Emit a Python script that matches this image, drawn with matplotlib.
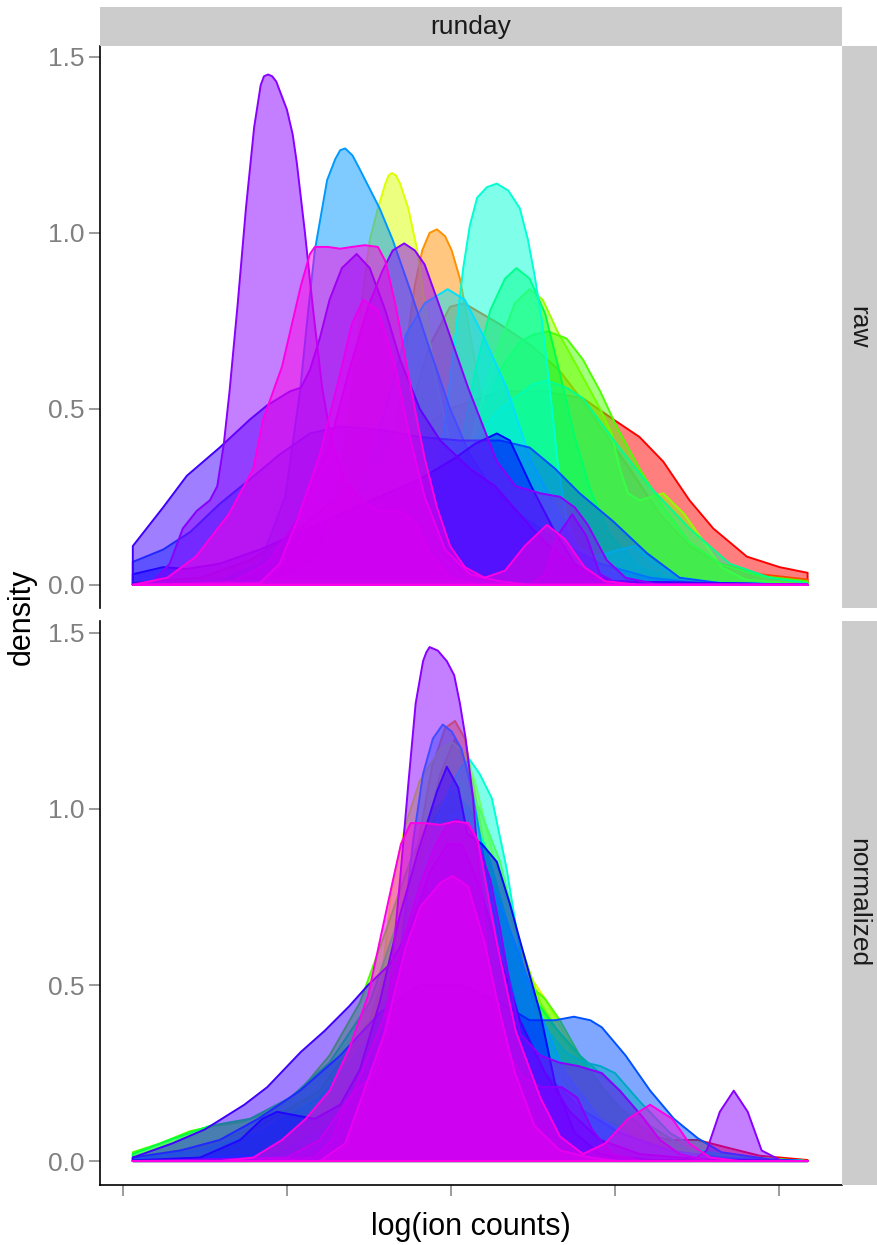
import matplotlib
matplotlib.use("Agg")
import matplotlib.pyplot as plt
from matplotlib.colors import to_rgba
from matplotlib.patches import Rectangle

plt.rcParams['font.family'] = ['Liberation Sans', 'DejaVu Sans']

# ---------------- data ----------------
# one rainbow colour per sample, drawn in this order
sample_colors = ["#FF0000", "#FF4800", "#FF9100", "#FFD900", "#DDFF00",
                 "#95FF00", "#4DFF00", "#04FF00", "#00FF44", "#00FF8C",
                 "#00FFD4", "#00E1FF", "#0099FF", "#0051FF", "#0009FF",
                 "#4000FF", "#8800FF", "#D000FF", "#FF00E6"]

facet_rows = ["raw", "normalized"]
facet_col = "runday"
x_ticks = [10, 12, 14, 16, 18]
y_ticks = [0.0, 0.5, 1.0, 1.5]
y_tick_labels = ["0.0", "0.5", "1.0", "1.5"]

# ---- raw panel densities ----
raw_red1_x = [10.12, 10.94, 11.55, 12.16, 12.77, 13.38, 13.99, 14.60, 15.12, 15.61, 15.98, 16.30, 16.59, 16.91, 17.20, 17.61, 18.01, 18.35]
raw_red1_y = [0.005, 0.02, 0.07, 0.16, 0.28, 0.40, 0.50, 0.55, 0.55, 0.53, 0.47, 0.42, 0.35, 0.24, 0.16, 0.08, 0.05, 0.034]
raw_red2_x = [10.12, 12.16, 12.77, 13.38, 13.74, 13.99, 14.16, 14.60, 14.98, 15.32, 15.55, 15.82, 16.18, 16.55, 16.91, 17.28, 17.77, 18.35]
raw_red2_y = [0.0, 0.02, 0.10, 0.40, 0.68, 0.79, 0.80, 0.74, 0.68, 0.61, 0.54, 0.45, 0.33, 0.20, 0.11, 0.06, 0.03, 0.015]
raw_orange1_x = [10.12, 12.16, 12.77, 13.13, 13.32, 13.44, 13.56, 13.65, 13.74, 13.83, 13.93, 14.01, 14.11, 14.23, 14.35, 14.54, 14.78, 15.09, 15.45, 15.94, 16.55, 17.28, 18.35]
raw_orange1_y = [0.0, 0.01, 0.06, 0.20, 0.42, 0.65, 0.85, 0.95, 1.00, 1.01, 0.99, 0.95, 0.87, 0.72, 0.56, 0.40, 0.28, 0.19, 0.12, 0.06, 0.02, 0.005, 0.0]
raw_yellow1_x = [10.12, 11.91, 12.40, 12.65, 12.79, 12.91, 13.01, 13.11, 13.20, 13.24, 13.28, 13.33, 13.38, 13.48, 13.59, 13.68, 13.80, 13.99, 14.23, 14.60, 15.09, 15.70, 16.43, 18.35]
raw_yellow1_y = [0.0, 0.01, 0.08, 0.30, 0.55, 0.80, 0.98, 1.07, 1.14, 1.163, 1.17, 1.163, 1.14, 1.07, 0.95, 0.80, 0.60, 0.40, 0.27, 0.18, 0.10, 0.04, 0.01, 0.0]
raw_chart1_x = [10.12, 12.77, 13.62, 14.11, 14.35, 14.60, 14.84, 15.00, 15.18, 15.41, 15.61, 15.82, 16.02, 16.30, 16.59, 16.91, 17.28, 17.77, 18.35]
raw_chart1_y = [0.0, 0.01, 0.08, 0.30, 0.45, 0.61, 0.69, 0.71, 0.72, 0.70, 0.64, 0.55, 0.45, 0.33, 0.22, 0.12, 0.06, 0.025, 0.01]
raw_chart2_x = [10.12, 13.13, 13.74, 14.23, 14.54, 14.78, 14.96, 15.12, 15.30, 15.54, 15.82, 15.96, 16.06, 16.16, 16.30, 16.59, 16.85, 17.12, 17.30, 17.59, 18.35]
raw_chart2_y = [0.0, 0.01, 0.10, 0.40, 0.65, 0.80, 0.84, 0.81, 0.72, 0.62, 0.50, 0.43, 0.33, 0.26, 0.24, 0.26, 0.20, 0.11, 0.05, 0.015, 0.0]
raw_spring1_x = [10.12, 13.13, 13.74, 14.05, 14.29, 14.48, 14.66, 14.80, 14.96, 15.15, 15.33, 15.51, 15.70, 15.94, 16.30, 16.79, 18.35]
raw_spring1_y = [0.0, 0.01, 0.10, 0.30, 0.60, 0.78, 0.87, 0.90, 0.87, 0.77, 0.60, 0.42, 0.27, 0.14, 0.05, 0.01, 0.0]
raw_spring2_x = [10.12, 12.16, 12.77, 13.38, 13.99, 14.60, 15.00, 15.18, 15.41, 15.61, 16.02, 16.46, 16.91, 17.40, 17.89, 18.35]
raw_spring2_y = [0.0, 0.01, 0.05, 0.17, 0.33, 0.50, 0.57, 0.58, 0.56, 0.53, 0.40, 0.27, 0.16, 0.06, 0.02, 0.005]
raw_aqua1_x = [10.12, 13.13, 13.62, 13.87, 14.05, 14.15, 14.23, 14.32, 14.44, 14.56, 14.70, 14.84, 14.94, 15.02, 15.11, 15.21, 15.30, 15.40, 15.52, 15.76, 16.06, 16.24, 16.49, 16.79, 17.28, 18.35]
raw_aqua1_y = [0.0, 0.01, 0.10, 0.35, 0.70, 0.90, 1.02, 1.10, 1.13, 1.14, 1.12, 1.07, 0.98, 0.88, 0.75, 0.55, 0.35, 0.20, 0.11, 0.08, 0.10, 0.11, 0.06, 0.02, 0.005, 0.0]
raw_aqua2_x = [10.12, 11.91, 12.52, 12.95, 13.20, 13.45, 13.68, 13.96, 14.17, 14.39, 14.68, 14.98, 15.32, 15.55, 15.82, 16.30, 18.35]
raw_aqua2_y = [0.0, 0.01, 0.10, 0.30, 0.50, 0.71, 0.80, 0.84, 0.81, 0.71, 0.56, 0.35, 0.20, 0.10, 0.04, 0.01, 0.0]
raw_azure1_x = [10.12, 11.18, 11.67, 11.98, 12.16, 12.26, 12.34, 12.40, 12.49, 12.59, 12.65, 12.71, 12.80, 12.89, 13.13, 13.29, 13.50, 13.74, 13.99, 14.23, 14.48, 14.84, 15.33, 15.82, 16.43, 17.04, 18.35]
raw_azure1_y = [0.0, 0.01, 0.06, 0.25, 0.55, 0.78, 0.95, 1.03, 1.15, 1.21, 1.235, 1.24, 1.22, 1.18, 1.07, 0.98, 0.84, 0.67, 0.50, 0.37, 0.28, 0.20, 0.12, 0.06, 0.02, 0.005, 0.0]
raw_azure2_x = [10.12, 10.49, 10.82, 11.18, 11.55, 11.91, 12.28, 12.65, 13.13, 13.62, 14.11, 14.60, 14.96, 15.27, 15.57, 15.98, 16.39, 16.79, 17.28, 18.35]
raw_azure2_y = [0.065, 0.10, 0.15, 0.23, 0.30, 0.37, 0.43, 0.45, 0.44, 0.42, 0.41, 0.41, 0.39, 0.33, 0.26, 0.18, 0.09, 0.02, 0.005, 0.0]
raw_blue2_x = [10.12, 10.49, 10.78, 11.18, 11.67, 12.16, 12.65, 13.13, 13.62, 14.05, 14.29, 14.56, 14.72, 14.98, 15.27, 15.51, 15.82, 18.35]
raw_blue2_y = [0.03, 0.05, 0.045, 0.06, 0.10, 0.15, 0.20, 0.25, 0.30, 0.36, 0.40, 0.43, 0.41, 0.28, 0.15, 0.06, 0.01, 0.0]
raw_blue1_x = [10.12, 10.49, 10.78, 11.18, 11.55, 11.76, 12.04, 12.17, 12.28, 12.40, 12.52, 12.67, 12.85, 13.01, 13.20, 13.38, 13.62, 13.87, 14.05, 14.23, 14.54, 14.84, 15.15, 15.51, 15.94, 18.35]
raw_blue1_y = [0.11, 0.22, 0.31, 0.39, 0.47, 0.51, 0.55, 0.56, 0.61, 0.70, 0.81, 0.90, 0.94, 0.90, 0.78, 0.64, 0.50, 0.41, 0.37, 0.33, 0.28, 0.20, 0.12, 0.05, 0.01, 0.0]
raw_purple1_x = [10.12, 10.37, 10.57, 10.73, 10.90, 11.06, 11.15, 11.23, 11.30, 11.40, 11.50, 11.60, 11.68, 11.72, 11.77, 11.82, 11.87, 12.00, 12.07, 12.12, 12.17, 12.22, 12.27, 12.32, 12.38, 12.43, 12.55, 12.71, 12.89, 13.13, 13.38, 13.56, 13.74, 13.99, 14.35, 14.96, 15.15, 15.30, 15.48, 15.65, 15.82, 16.06, 18.35]
raw_purple1_y = [0.0, 0.01, 0.06, 0.16, 0.21, 0.24, 0.28, 0.40, 0.55, 0.80, 1.07, 1.30, 1.42, 1.445, 1.45, 1.445, 1.43, 1.35, 1.28, 1.20, 1.10, 1.00, 0.89, 0.78, 0.66, 0.56, 0.40, 0.30, 0.24, 0.21, 0.21, 0.18, 0.09, 0.02, 0.0, 0.0, 0.03, 0.14, 0.20, 0.14, 0.03, 0.0, 0.0]
raw_purple2_x = [10.12, 11.35, 11.76, 12.17, 12.52, 12.76, 12.99, 13.16, 13.29, 13.43, 13.56, 13.68, 13.91, 14.21, 14.56, 14.79, 15.09, 15.33, 15.51, 15.67, 15.90, 16.13, 16.55, 18.35]
raw_purple2_y = [0.0, 0.01, 0.06, 0.20, 0.40, 0.61, 0.79, 0.89, 0.95, 0.97, 0.95, 0.91, 0.76, 0.56, 0.35, 0.28, 0.26, 0.25, 0.22, 0.17, 0.07, 0.02, 0.0, 0.0]
raw_pink1_x = [10.12, 11.67, 11.91, 12.12, 12.40, 12.65, 12.79, 12.93, 13.11, 13.32, 13.50, 13.68, 13.93, 14.23, 14.60, 14.96, 18.35]
raw_pink1_y = [0.0, 0.005, 0.06, 0.18, 0.37, 0.60, 0.74, 0.81, 0.78, 0.62, 0.42, 0.25, 0.10, 0.03, 0.01, 0.0, 0.0]
raw_pink2_x = [10.12, 10.54, 10.89, 11.29, 11.59, 11.71, 11.94, 12.17, 12.28, 12.34, 12.50, 12.65, 12.79, 12.95, 13.11, 13.20, 13.32, 13.44, 13.56, 13.68, 13.83, 13.99, 14.17, 14.41, 14.66, 14.90, 15.17, 15.39, 15.63, 15.88, 16.30, 18.35]
raw_pink2_y = [0.0, 0.02, 0.08, 0.20, 0.33, 0.47, 0.62, 0.85, 0.94, 0.96, 0.96, 0.955, 0.96, 0.965, 0.96, 0.92, 0.80, 0.65, 0.50, 0.36, 0.22, 0.11, 0.05, 0.02, 0.04, 0.11, 0.17, 0.13, 0.05, 0.01, 0.0, 0.0]

# ---- normalized panel densities ----
norm_red1_x = [10.12, 11.55, 12.40, 13.01, 13.38, 13.68, 13.93, 14.11, 14.35, 14.60, 14.96, 15.33, 15.82, 16.30, 16.67, 17.01, 17.34, 17.77, 18.35]
norm_red1_y = [0.0, 0.01, 0.05, 0.20, 0.45, 0.75, 0.90, 0.92, 0.80, 0.60, 0.38, 0.22, 0.12, 0.08, 0.06, 0.06, 0.04, 0.015, 0.003]
norm_red2_x = [10.12, 12.16, 12.77, 13.26, 13.62, 13.87, 14.05, 14.23, 14.48, 14.72, 15.09, 15.57, 16.06, 16.79, 18.35]
norm_red2_y = [0.0, 0.02, 0.10, 0.40, 0.85, 1.10, 1.20, 1.10, 0.80, 0.50, 0.25, 0.10, 0.04, 0.01, 0.0]
norm_orange1_x = [10.12, 12.40, 13.01, 13.32, 13.56, 13.77, 13.93, 14.05, 14.17, 14.33, 14.54, 14.78, 15.09, 15.51, 16.06, 16.67, 17.28, 18.35]
norm_orange1_y = [0.0, 0.01, 0.15, 0.50, 0.85, 1.12, 1.23, 1.25, 1.20, 1.00, 0.70, 0.45, 0.28, 0.17, 0.08, 0.03, 0.01, 0.0]
norm_yellow1_x = [10.12, 12.16, 12.65, 12.95, 13.16, 13.28, 13.44, 13.62, 13.87, 14.01, 14.17, 14.29, 14.48, 14.72, 14.98, 15.15, 15.39, 15.70, 16.06, 16.55, 17.16, 18.35]
norm_yellow1_y = [0.0, 0.02, 0.12, 0.30, 0.52, 0.78, 0.95, 1.08, 1.17, 1.19, 1.16, 1.08, 0.90, 0.70, 0.52, 0.46, 0.36, 0.25, 0.13, 0.04, 0.01, 0.0]
norm_chart1_x = [10.12, 10.45, 10.82, 11.12, 11.43, 11.79, 12.16, 12.52, 12.89, 13.20, 13.50, 13.80, 14.05, 14.29, 14.54, 14.78, 14.96, 15.15, 15.33, 15.57, 15.94, 16.43, 17.04, 18.35]
norm_chart1_y = [0.025, 0.05, 0.085, 0.10, 0.11, 0.14, 0.20, 0.30, 0.45, 0.65, 0.85, 1.00, 1.05, 0.98, 0.80, 0.60, 0.50, 0.46, 0.40, 0.30, 0.18, 0.07, 0.02, 0.0]
norm_chart2_x = [10.12, 10.94, 11.67, 12.40, 13.01, 13.50, 13.87, 14.11, 14.35, 14.60, 14.84, 15.09, 15.33, 15.70, 16.06, 16.55, 17.16, 18.35]
norm_chart2_y = [0.01, 0.04, 0.10, 0.20, 0.40, 0.75, 1.00, 1.08, 1.00, 0.85, 0.62, 0.45, 0.36, 0.25, 0.15, 0.06, 0.015, 0.0]
norm_spring1_x = [10.12, 10.57, 11.06, 11.55, 12.04, 12.52, 13.01, 13.38, 13.74, 14.01, 14.23, 14.48, 14.72, 14.96, 15.27, 15.57, 16.06, 16.43, 16.91, 17.52, 18.35]
norm_spring1_y = [0.02, 0.06, 0.10, 0.12, 0.18, 0.28, 0.45, 0.70, 0.95, 1.05, 1.00, 0.85, 0.65, 0.48, 0.38, 0.30, 0.20, 0.10, 0.03, 0.005, 0.0]
norm_spring2_x = [10.12, 10.94, 11.67, 12.40, 13.01, 13.38, 13.74, 13.99, 14.17, 14.41, 14.66, 14.90, 15.15, 15.39, 15.63, 15.82, 16.00, 16.30, 16.67, 17.04, 17.52, 18.35]
norm_spring2_y = [0.005, 0.03, 0.08, 0.18, 0.35, 0.55, 0.85, 0.98, 1.00, 0.90, 0.70, 0.50, 0.38, 0.31, 0.28, 0.27, 0.25, 0.17, 0.08, 0.03, 0.01, 0.0]
norm_aqua1_x = [10.12, 12.16, 12.77, 13.26, 13.56, 13.80, 13.99, 14.13, 14.23, 14.35, 14.50, 14.68, 14.84, 15.02, 15.27, 15.57, 16.06, 16.67, 17.28, 18.35]
norm_aqua1_y = [0.0, 0.02, 0.10, 0.40, 0.75, 0.95, 1.06, 1.12, 1.14, 1.10, 1.03, 0.83, 0.60, 0.40, 0.25, 0.15, 0.07, 0.02, 0.005, 0.0]
norm_aqua2_x = [10.12, 11.91, 12.65, 13.13, 13.50, 13.87, 14.17, 14.48, 14.78, 15.09, 15.39, 15.82, 16.43, 17.04, 18.35]
norm_aqua2_y = [0.0, 0.02, 0.12, 0.35, 0.60, 0.80, 0.86, 0.80, 0.62, 0.42, 0.25, 0.12, 0.04, 0.01, 0.0]
norm_azure1_x = [10.12, 12.16, 12.89, 13.26, 13.44, 13.54, 13.66, 13.78, 13.90, 14.01, 14.13, 14.26, 14.41, 14.60, 14.84, 15.15, 15.57, 16.06, 16.67, 17.28, 18.35]
norm_azure1_y = [0.0, 0.01, 0.08, 0.35, 0.70, 0.91, 1.10, 1.20, 1.24, 1.22, 1.17, 1.05, 0.85, 0.62, 0.40, 0.25, 0.15, 0.08, 0.03, 0.01, 0.0]
norm_azure2_x = [10.12, 10.70, 11.18, 11.65, 12.16, 12.65, 13.13, 13.62, 14.11, 14.60, 14.96, 15.27, 15.50, 15.70, 15.84, 16.13, 16.43, 16.72, 17.01, 17.30, 17.89, 18.35]
norm_azure2_y = [0.01, 0.03, 0.06, 0.12, 0.20, 0.30, 0.42, 0.50, 0.50, 0.45, 0.40, 0.40, 0.41, 0.40, 0.38, 0.30, 0.20, 0.12, 0.065, 0.025, 0.005, 0.0]
norm_blue2_x = [10.12, 10.94, 11.43, 11.70, 11.88, 12.10, 12.34, 12.65, 12.89, 13.13, 13.38, 13.60, 13.71, 13.83, 13.95, 14.09, 14.20, 14.38, 14.56, 14.72, 14.85, 15.09, 15.27, 15.51, 15.82, 16.43, 18.35]
norm_blue2_y = [0.002, 0.01, 0.06, 0.12, 0.14, 0.13, 0.12, 0.16, 0.26, 0.45, 0.70, 0.88, 0.96, 1.05, 1.12, 1.06, 0.93, 0.90, 0.85, 0.73, 0.62, 0.42, 0.22, 0.08, 0.02, 0.003, 0.0]
norm_blue1_x = [10.12, 10.60, 11.00, 11.48, 11.76, 12.17, 12.46, 12.76, 12.99, 13.26, 13.50, 13.74, 13.96, 14.13, 14.35, 14.60, 14.84, 15.15, 15.45, 15.82, 16.30, 17.04, 18.35]
norm_blue1_y = [0.01, 0.05, 0.09, 0.16, 0.21, 0.31, 0.37, 0.44, 0.50, 0.56, 0.66, 0.82, 0.90, 0.90, 0.78, 0.58, 0.40, 0.25, 0.14, 0.06, 0.02, 0.005, 0.0]
norm_purple1_x = [10.12, 11.55, 12.34, 12.55, 12.71, 12.88, 13.04, 13.12, 13.21, 13.28, 13.38, 13.48, 13.57, 13.66, 13.70, 13.74, 13.79, 13.84, 13.95, 14.04, 14.11, 14.18, 14.27, 14.35, 14.45, 14.56, 14.70, 14.87, 15.11, 15.35, 15.54, 15.72, 15.96, 16.33, 16.94, 17.12, 17.28, 17.45, 17.62, 17.79, 18.04, 18.35]
norm_purple1_y = [0.0, 0.0, 0.01, 0.06, 0.16, 0.21, 0.24, 0.28, 0.40, 0.55, 0.80, 1.07, 1.30, 1.42, 1.445, 1.46, 1.455, 1.45, 1.42, 1.38, 1.30, 1.20, 1.03, 0.80, 0.58, 0.42, 0.31, 0.24, 0.21, 0.21, 0.18, 0.09, 0.02, 0.0, 0.0, 0.03, 0.14, 0.20, 0.14, 0.03, 0.0, 0.0]
norm_purple2_x = [10.12, 12.00, 12.40, 12.82, 13.17, 13.40, 13.63, 13.80, 13.94, 14.07, 14.21, 14.33, 14.48, 14.60, 14.72, 14.85, 15.09, 15.32, 15.55, 15.84, 16.06, 16.32, 16.55, 16.79, 17.16, 18.35]
norm_purple2_y = [0.0, 0.01, 0.06, 0.20, 0.40, 0.61, 0.79, 0.89, 0.95, 0.97, 0.95, 0.90, 0.80, 0.66, 0.50, 0.36, 0.30, 0.28, 0.27, 0.25, 0.20, 0.13, 0.06, 0.02, 0.0, 0.0]
norm_pink1_x = [10.12, 12.40, 12.71, 12.91, 13.20, 13.44, 13.62, 13.87, 14.02, 14.21, 14.41, 14.60, 14.78, 15.02, 15.33, 15.70, 16.06, 18.35]
norm_pink1_y = [0.0, 0.0, 0.05, 0.18, 0.37, 0.60, 0.72, 0.79, 0.81, 0.78, 0.62, 0.42, 0.25, 0.10, 0.03, 0.01, 0.0, 0.0]
norm_pink2_x = [10.12, 11.18, 11.59, 11.94, 12.23, 12.52, 12.76, 12.99, 13.22, 13.39, 13.51, 13.68, 13.87, 14.05, 14.21, 14.33, 14.56, 14.79, 15.09, 15.33, 15.61, 15.88, 16.16, 16.43, 16.70, 16.91, 17.16, 17.52, 18.35]
norm_pink2_y = [0.0, 0.0, 0.01, 0.06, 0.12, 0.20, 0.32, 0.47, 0.72, 0.90, 0.96, 0.96, 0.955, 0.965, 0.96, 0.91, 0.62, 0.37, 0.18, 0.07, 0.02, 0.05, 0.12, 0.16, 0.12, 0.05, 0.01, 0.0, 0.0]

# (x values, densities, colour index) in drawing order
raw_curves = [
    (raw_red1_x, raw_red1_y, 0), (raw_red2_x, raw_red2_y, 1),
    (raw_orange1_x, raw_orange1_y, 2), (raw_yellow1_x, raw_yellow1_y, 4),
    (raw_chart2_x, raw_chart2_y, 5), (raw_chart1_x, raw_chart1_y, 6),
    (raw_spring1_x, raw_spring1_y, 8), (raw_spring2_x, raw_spring2_y, 9),
    (raw_aqua1_x, raw_aqua1_y, 10), (raw_aqua2_x, raw_aqua2_y, 11),
    (raw_azure1_x, raw_azure1_y, 12), (raw_azure2_x, raw_azure2_y, 13),
    (raw_blue2_x, raw_blue2_y, 14), (raw_blue1_x, raw_blue1_y, 15),
    (raw_purple1_x, raw_purple1_y, 16), (raw_purple2_x, raw_purple2_y, 16),
    (raw_pink1_x, raw_pink1_y, 17), (raw_pink2_x, raw_pink2_y, 18),
]
norm_curves = [
    (norm_red1_x, norm_red1_y, 0), (norm_red2_x, norm_red2_y, 1),
    (norm_orange1_x, norm_orange1_y, 2), (norm_yellow1_x, norm_yellow1_y, 4),
    (norm_chart2_x, norm_chart2_y, 5), (norm_chart1_x, norm_chart1_y, 6),
    (norm_spring1_x, norm_spring1_y, 8), (norm_spring2_x, norm_spring2_y, 9),
    (norm_aqua1_x, norm_aqua1_y, 10), (norm_aqua2_x, norm_aqua2_y, 11),
    (norm_azure1_x, norm_azure1_y, 12), (norm_azure2_x, norm_azure2_y, 13),
    (norm_blue2_x, norm_blue2_y, 14), (norm_blue1_x, norm_blue1_y, 15),
    (norm_purple1_x, norm_purple1_y, 16), (norm_purple2_x, norm_purple2_y, 16),
    (norm_pink1_x, norm_pink1_y, 17), (norm_pink2_x, norm_pink2_y, 18),
]

# ---------------- layout ----------------
W, H = 877, 1245
fig = plt.figure(figsize=(W / 100, H / 100), dpi=100)


def fbox(l, t, r, b):
    return [l / W, 1 - b / H, (r - l) / W, (b - t) / H]


ax_raw = fig.add_axes(fbox(100, 46, 842, 608))
ax_norm = fig.add_axes(fbox(100, 621, 842, 1185))

STRIP = "#CCCCCC"
TICK_GREY = "#808080"

for ax, curves, ylim in [(ax_raw, raw_curves, (-0.066, 1.531)),
                         (ax_norm, norm_curves, (-0.068, 1.534))]:
    for xs, ys, ci in curves:
        col = sample_colors[ci]
        px = [xs[0]] + list(xs) + [xs[-1]]
        py = [0.0] + list(ys) + [0.0]
        ax.fill(px, py, facecolor=to_rgba(col, 0.5), edgecolor=col,
                linewidth=1.4, joinstyle="round")
    ax.set_xlim(9.72, 18.77)
    ax.set_ylim(*ylim)
    ax.set_yticks(y_ticks)
    ax.set_yticklabels(y_tick_labels)
    ax.tick_params(axis="y", length=8, width=1.1, color=TICK_GREY,
                   labelcolor=TICK_GREY, labelsize=19, pad=3)
    for s in ["top", "right"]:
        ax.spines[s].set_visible(False)
    ax.spines["left"].set_linewidth(1.2)
    ax.spines["left"].set_color("black")

ax_raw.spines["bottom"].set_visible(False)
ax_raw.set_xticks([])
ax_norm.spines["bottom"].set_linewidth(1.2)
ax_norm.spines["bottom"].set_color("black")
ax_norm.set_xticks(x_ticks)
ax_norm.set_xticklabels([""] * len(x_ticks))
ax_norm.tick_params(axis="x", length=8, width=1.1, color=TICK_GREY)

# strips
for (l, t, r, b) in [(100, 7, 842, 46), (842, 46, 880, 608), (842, 621, 880, 1185)]:
    fig.add_artist(Rectangle((l / W, 1 - b / H), (r - l) / W, (b - t) / H,
                             transform=fig.transFigure, facecolor=STRIP,
                             edgecolor="none"))
fig.text(471 / W, 1 - 27 / H, facet_col, ha="center", va="center",
         fontsize=19, color="#1A1A1A")
fig.text(858 / W, 1 - 327 / H, facet_rows[0], ha="center", va="center",
         rotation=-90, fontsize=19, color="#1A1A1A")
fig.text(858 / W, 1 - 903 / H, facet_rows[1], ha="center", va="center",
         rotation=-90, fontsize=19, color="#1A1A1A")

# axis titles
fig.text(471 / W, 1 - 1227 / H, "log(ion counts)", ha="center", va="center",
         fontsize=22, color="black")
fig.text(22 / W, 1 - 617 / H, "density", ha="center", va="center",
         rotation=90, fontsize=22, color="black")

fig.savefig("out.png", dpi=100)
